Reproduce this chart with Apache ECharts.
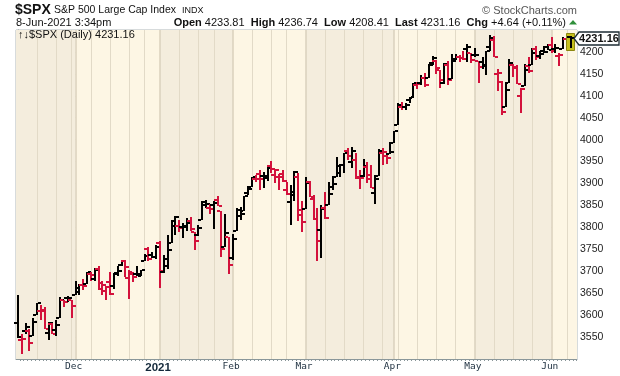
<!DOCTYPE html>
<html>
<head>
<meta charset="utf-8">
<script src="https://cdn.jsdelivr.net/npm/echarts@6/dist/echarts.min.js"></script>
<style>
  html, body { margin: 0; padding: 0; background: #fff; }
  #chart { width: 620px; height: 376px; }
</style>
</head>
<body>
<div id="chart"></div>
<script>
// daily bars, $SPX
const dates = [
  '2020-11-09','2020-11-10','2020-11-11','2020-11-12','2020-11-13','2020-11-16','2020-11-17','2020-11-18','2020-11-19','2020-11-20',
  '2020-11-23','2020-11-24','2020-11-25','2020-11-27','2020-11-30',
  '2020-12-01','2020-12-02','2020-12-03','2020-12-04','2020-12-07','2020-12-08','2020-12-09','2020-12-10','2020-12-11','2020-12-14',
  '2020-12-15','2020-12-16','2020-12-17','2020-12-18','2020-12-21','2020-12-22','2020-12-23','2020-12-24','2020-12-28','2020-12-29',
  '2020-12-30','2020-12-31',
  '2021-01-04','2021-01-05','2021-01-06','2021-01-07','2021-01-08','2021-01-11','2021-01-12','2021-01-13','2021-01-14','2021-01-15',
  '2021-01-19','2021-01-20','2021-01-21','2021-01-22','2021-01-25','2021-01-26','2021-01-27','2021-01-28','2021-01-29',
  '2021-02-01','2021-02-02','2021-02-03','2021-02-04','2021-02-05','2021-02-08','2021-02-09','2021-02-10','2021-02-11','2021-02-12',
  '2021-02-16','2021-02-17','2021-02-18','2021-02-19','2021-02-22','2021-02-23','2021-02-24','2021-02-25','2021-02-26',
  '2021-03-01','2021-03-02','2021-03-03','2021-03-04','2021-03-05','2021-03-08','2021-03-09','2021-03-10','2021-03-11','2021-03-12',
  '2021-03-15','2021-03-16','2021-03-17','2021-03-18','2021-03-19','2021-03-22','2021-03-23','2021-03-24','2021-03-25','2021-03-26',
  '2021-03-29','2021-03-30','2021-03-31',
  '2021-04-01','2021-04-05','2021-04-06','2021-04-07','2021-04-08','2021-04-09','2021-04-12','2021-04-13','2021-04-14','2021-04-15',
  '2021-04-16','2021-04-19','2021-04-20','2021-04-21','2021-04-22','2021-04-23','2021-04-26','2021-04-27','2021-04-28','2021-04-29',
  '2021-04-30',
  '2021-05-03','2021-05-04','2021-05-05','2021-05-06','2021-05-07','2021-05-10','2021-05-11','2021-05-12','2021-05-13','2021-05-14',
  '2021-05-17','2021-05-18','2021-05-19','2021-05-20','2021-05-21','2021-05-24','2021-05-25','2021-05-26','2021-05-27','2021-05-28',
  '2021-06-01','2021-06-02','2021-06-03','2021-06-04','2021-06-07','2021-06-08'
];
const opens = [
  3583.0,3543.3,3563.2,3562.7,3552.6,3600.2,3610.3,3612.1,3559.4,3579.3,3566.8,3594.5,3635.5,3638.6,3634.2,
  3645.9,3653.8,3668.3,3670.9,3694.7,3683.1,3706.0,3659.1,3656.1,3675.3,3666.4,3696.3,3713.7,3722.4,3684.3,3698.1,3693.4,3694.0,3723.0,3750.0,3736.2,3733.3,
  3764.6,3698.0,3712.2,3764.7,3815.1,3803.1,3801.6,3802.2,3815.0,3788.7,3781.9,3816.2,3857.5,3844.2,3851.7,3863.0,3836.8,3755.8,3778.1,
  3731.2,3791.8,3840.3,3836.7,3878.3,3892.6,3910.5,3920.8,3916.4,3911.7,3939.6,3918.5,3915.9,3921.2,3885.6,3857.1,3873.7,3915.8,3839.7,
  3842.5,3903.6,3864.0,3818.5,3793.6,3844.4,3851.9,3892.0,3915.5,3924.5,3943.0,3973.6,3949.6,3953.5,3913.1,3916.5,3937.6,3919.9,3879.3,3917.1,3969.3,3963.3,3967.3,
  3992.8,4034.4,4075.6,4074.3,4090.0,4096.1,4124.7,4130.1,4141.6,4139.8,4174.1,4179.8,4159.2,4128.4,4170.5,4138.8,4185.0,4188.3,4185.1,4206.1,4198.1,
  4192.0,4179.0,4177.1,4169.1,4210.3,4228.3,4150.3,4130.6,4075.0,4129.6,4169.9,4165.9,4098.5,4122.0,4168.6,4170.2,4205.9,4191.6,4201.9,4210.8,
  4216.5,4206.8,4191.4,4206.1,4229.3,4233.8
];
const highs = [
  3646.0,3557.2,3581.2,3569.0,3593.7,3628.5,3623.1,3619.1,3585.2,3581.2,3589.8,3642.3,3635.5,3644.3,3634.2,
  3678.5,3671.0,3682.7,3699.2,3697.4,3708.5,3712.4,3678.5,3665.9,3697.6,3695.3,3711.3,3725.1,3726.7,3702.9,3698.3,3711.2,3703.8,3740.5,3756.1,3744.6,3760.2,
  3770.0,3737.8,3783.0,3811.6,3826.7,3817.9,3810.8,3821.0,3823.6,3788.7,3804.5,3859.8,3861.5,3852.3,3859.2,3870.9,3836.8,3830.5,3778.1,
  3784.3,3843.1,3847.5,3872.4,3894.6,3915.8,3918.4,3931.5,3926.0,3937.2,3950.4,3933.6,3922.0,3930.4,3902.9,3896.0,3928.7,3925.0,3861.1,
  3914.5,3906.4,3874.5,3843.7,3851.7,3881.1,3903.8,3917.4,3960.3,3945.0,3970.1,3981.0,3983.9,3969.6,3930.1,3955.3,3949.1,3942.1,3919.5,3978.2,3981.8,3968.0,3994.4,
  4020.6,4083.4,4086.2,4083.1,4098.2,4129.5,4131.8,4148.0,4151.7,4173.5,4191.3,4180.8,4159.2,4175.0,4179.6,4194.2,4194.2,4193.4,4201.5,4218.8,4198.1,
  4209.4,4179.0,4187.7,4202.7,4238.0,4236.4,4162.0,4134.7,4131.6,4183.1,4171.9,4169.2,4116.9,4172.8,4188.7,4209.5,4213.4,4202.6,4213.4,4218.4,
  4234.1,4217.4,4198.0,4233.5,4232.3,4236.7
];
const lows = [
  3547.5,3511.9,3557.0,3518.6,3552.6,3600.2,3588.7,3567.3,3543.8,3556.9,3552.8,3594.5,3617.8,3629.3,3594.4,
  3645.9,3644.8,3657.2,3670.9,3678.9,3678.8,3660.5,3645.2,3633.4,3645.8,3659.6,3688.6,3710.9,3685.8,3636.5,3676.2,3689.3,3689.3,3723.0,3723.3,3730.2,3726.9,
  3662.7,3695.1,3705.3,3764.7,3783.6,3789.0,3776.5,3791.5,3792.9,3749.6,3780.4,3816.2,3845.1,3830.4,3797.2,3847.8,3732.5,3755.8,3694.1,
  3725.6,3791.8,3816.7,3836.7,3874.9,3892.6,3902.6,3884.9,3890.4,3905.8,3923.9,3900.4,3885.0,3903.1,3874.7,3805.6,3859.6,3814.0,3789.5,
  3842.5,3868.6,3818.9,3723.3,3730.2,3819.3,3851.9,3885.7,3915.5,3915.2,3923.5,3953.4,3935.7,3910.9,3886.8,3914.2,3901.6,3889.1,3853.5,3917.1,3943.3,3944.4,3967.0,
  3992.8,4034.4,4068.1,4068.3,4082.5,4095.5,4114.8,4124.4,4120.9,4139.8,4170.8,4150.5,4118.4,4126.4,4123.7,4138.8,4182.4,4176.2,4181.8,4176.8,4174.9,
  4188.0,4128.6,4160.9,4147.3,4201.6,4188.1,4111.5,4056.9,4075.0,4129.6,4142.7,4126.0,4061.4,4122.0,4151.7,4170.2,4182.5,4184.1,4197.8,4203.6,
  4197.6,4198.3,4167.6,4206.1,4215.7,4208.4
];
const closes = [
  3550.5,3545.5,3572.7,3537.0,3585.2,3626.9,3609.5,3567.8,3581.9,3557.5,3577.6,3635.4,3629.7,3638.4,3621.6,
  3662.5,3669.0,3666.7,3699.1,3692.0,3702.3,3672.8,3668.1,3663.5,3647.5,3694.6,3701.2,3722.5,3709.4,3694.9,3687.3,3690.0,3703.1,3735.4,3727.0,3732.0,3756.1,
  3700.7,3726.9,3748.1,3803.8,3824.7,3799.6,3801.2,3809.8,3795.5,3768.3,3798.9,3851.9,3853.1,3841.5,3855.4,3849.6,3750.8,3787.4,3714.2,
  3773.9,3826.3,3830.2,3871.7,3886.8,3915.6,3911.2,3909.9,3916.4,3934.8,3932.6,3931.3,3914.0,3906.7,3876.5,3881.4,3925.4,3829.3,3811.2,
  3901.8,3870.3,3819.7,3768.5,3841.9,3821.4,3875.4,3898.8,3939.3,3943.3,3968.9,3962.7,3974.1,3915.5,3913.1,3940.6,3910.5,3889.1,3909.5,3974.5,3971.1,3958.6,3972.9,
  4019.9,4077.9,4073.9,4080.0,4097.2,4128.8,4128.0,4141.6,4124.7,4170.4,4185.5,4163.3,4134.9,4173.4,4135.0,4180.2,4187.6,4186.7,4183.2,4211.5,4181.2,
  4192.7,4164.7,4167.6,4201.6,4232.6,4188.4,4152.1,4063.0,4112.5,4173.9,4163.3,4127.8,4115.7,4159.1,4155.9,4197.1,4188.1,4196.0,4200.9,4204.1,
  4202.0,4208.1,4192.9,4229.9,4226.5,4231.16
];
const closeBefore = 3509.4;
const monthNames = ['Nov', 'Dec', '2021', 'Feb', 'Mar', 'Apr', 'May', 'Jun'];

const xMin = -0.5, xMax = 145.6;
const FONT = '"Liberation Sans", Arial, sans-serif';

// up/down vs previous close
const rows = closes.map((c, i) => {
  const prev = i === 0 ? closeBefore : closes[i - 1];
  return [i, opens[i], highs[i], lows[i], c, c >= prev ? 1 : -1];
});

// month starts and week starts from the dates
const monthStarts = [];
const weekStarts = [];
dates.forEach((d, i) => {
  if (i === 0) return;
  const dt = new Date(d + 'T12:00:00Z');
  const pd = new Date(dates[i - 1] + 'T12:00:00Z');
  if (dt.getUTCMonth() !== pd.getUTCMonth()) monthStarts.push(i);
  if (dt.getUTCDay() <= pd.getUTCDay() || (dt - pd) > 4 * 86400000) weekStarts.push(i);
});
const monthLabelAt = {};
monthStarts.forEach((idx, k) => { monthLabelAt[idx] = monthNames[k + 1]; });

const bounds = [xMin].concat(monthStarts, [xMax]);
const shadeAreas = [];
for (let k = 0; k < bounds.length - 1; k++) {
  shadeAreas.push([
    { xAxis: bounds[k], itemStyle: { color: k % 2 === 0 ? '#f4eddd' : '#fdf6e4' } },
    { xAxis: bounds[k + 1] }
  ]);
}

const gridLines = weekStarts.concat(monthStarts.filter(i => weekStarts.indexOf(i) < 0)).map(i => ({
  xAxis: i,
  lineStyle: monthStarts.indexOf(i) >= 0
    ? { color: '#dad1bc', width: 1.5, type: 'solid' }
    : { color: '#e2dac7', width: 1, type: 'solid' }
}));

function renderBar(params, api) {
  const i = api.value(0);
  const pO = api.coord([i, api.value(1)]);
  const pH = api.coord([i, api.value(2)]);
  const pL = api.coord([i, api.value(3)]);
  const pC = api.coord([i, api.value(4)]);
  const color = api.value(5) > 0 ? '#000000' : '#d3123c';
  const x = Math.round(pH[0]);
  const yH = Math.round(pH[1]), yL = Math.round(pL[1]);
  const children = [];
  const last = params.dataIndex === closes.length - 1;
  if (last) {
    children.push({
      type: 'rect',
      shape: { x: x - 4.5, y: yH - 2.5, width: 8, height: yL - yH + 5 },
      style: { fill: '#c6c01c', stroke: '#8c8710', lineWidth: 1 }
    });
  }
  children.push(
    { type: 'rect', shape: { x: x - 1, y: yH, width: 2, height: Math.max(2, yL - yH) }, style: { fill: color } },
    { type: 'rect', shape: { x: x - 4, y: Math.round(pO[1]) - 1, width: 3, height: 2 }, style: { fill: color } },
    { type: 'rect', shape: { x: x + 1, y: Math.round(pC[1]) - 1, width: 3, height: 2 }, style: { fill: color } }
  );
  if (last) {
    const cs = params.coordSys;
    const right = cs.x + cs.width;
    const cy = Math.round(pC[1]) + 0.5;
    const tip = right - 3;
    children.push({
      type: 'polygon',
      shape: { points: [[tip, cy], [tip + 5, cy - 6.5], [619, cy - 6.5], [619, cy + 6.5], [tip + 5, cy + 6.5]] },
      style: { fill: '#ffffff', stroke: '#1d2b33', lineWidth: 1.3 }
    }, {
      type: 'text',
      x: 599, y: cy,
      style: { text: api.value(4).toFixed(2), font: 'bold 11px ' + FONT, fill: '#111', align: 'center', verticalAlign: 'middle' }
    });
  }
  return { type: 'group', children };
}

const chart = echarts.init(document.getElementById('chart'), null, { renderer: 'canvas' });

chart.setOption({
  animation: false,
  backgroundColor: '#ffffff',
  grid: { left: 16, right: 43, top: 30, bottom: 17, show: true, borderColor: '#aeb7b9', borderWidth: 1 },
  xAxis: {
    type: 'value', min: xMin, max: xMax, interval: 1,
    axisLine: { show: true, lineStyle: { color: '#8a979a' } },
    axisTick: { show: true, length: 2, lineStyle: { color: '#8a979a' } },
    splitLine: { show: false },
    axisLabel: {
      margin: 3, showMinLabel: false, showMaxLabel: false,
      fontFamily: '"DejaVu Sans Mono", monospace', fontSize: 9.5, color: '#1c2e3e',
      formatter: function (v) {
        const k = Math.ceil(v - 0.01);
        const name = monthLabelAt[k];
        if (!name) return '';
        return name === '2021' ? '{y|2021}' : name;
      },
      rich: { y: { fontFamily: FONT, fontWeight: 'bold', fontSize: 11.5, color: '#13283a' } }
    }
  },
  yAxis: {
    type: 'value', position: 'right', min: 3500, max: 4250, interval: 50,
    axisLine: { show: true, lineStyle: { color: '#8a979a' } },
    axisTick: { show: true, length: 2, lineStyle: { color: '#8a979a' } },
    axisLabel: {
      showMinLabel: false, showMaxLabel: false, margin: 3,
      fontFamily: '"Liberation Sans Narrow", ' + FONT, fontSize: 10.5, color: '#222',
      formatter: v => String(v)
    },
    splitLine: { show: true, lineStyle: { color: '#e2dac7', width: 1 } }
  },
  graphic: [
    { type: 'text', x: 15, y: 10, style: { text: '$SPX', font: 'bold 14px ' + FONT, fill: '#111', verticalAlign: 'middle' } },
    { type: 'text', x: 54, y: 10, style: { text: 'S&P 500 Large Cap Index', font: '10.5px ' + FONT, fill: '#111', verticalAlign: 'middle' } },
    { type: 'text', x: 182, y: 10.5, style: { text: 'INDX', font: '9px ' + FONT, fill: '#111', verticalAlign: 'middle' } },
    { type: 'text', x: 577, y: 10.5, style: { text: '\u00a9 StockCharts.com', font: '11px ' + FONT, fill: '#555', align: 'right', verticalAlign: 'middle' } },
    { type: 'text', x: 16, y: 22.5, style: { text: '8-Jun-2021 3:34pm', font: '11px ' + FONT, fill: '#111', verticalAlign: 'middle' } },
    {
      type: 'text', x: 566, y: 22.5,
      style: {
        text: '{b|Open} 4233.81  {b|High} 4236.74  {b|Low} 4208.41  {b|Last} 4231.16  {b|Chg} +4.64 (+0.11%)',
        font: '11px ' + FONT, fill: '#111', align: 'right', verticalAlign: 'middle',
        rich: { b: { font: 'bold 11px ' + FONT, fill: '#111' } }
      }
    },
    { type: 'polygon', shape: { points: [[569, 24.5], [577, 24.5], [573, 20]] }, style: { fill: '#2f8f3a' } },
    { type: 'text', x: 18, y: 35, z: 10, style: { text: '\u2191\u2193$SPX (Daily) 4231.16', font: '11px ' + FONT, fill: '#111', verticalAlign: 'middle' } }
  ],
  series: [
    {
      type: 'line', data: [], z: -1, silent: true,
      markArea: { silent: true, data: shadeAreas }
    },
    {
      type: 'line', data: [], z: 1, silent: true,
      markLine: { silent: true, symbol: ['none', 'none'], label: { show: false }, data: gridLines }
    },
    {
      type: 'custom', z: 5,
      renderItem: renderBar,
      encode: { x: 0, y: [1, 2, 3, 4] },
      data: rows
    }
  ]
});
</script>
</body>
</html>
